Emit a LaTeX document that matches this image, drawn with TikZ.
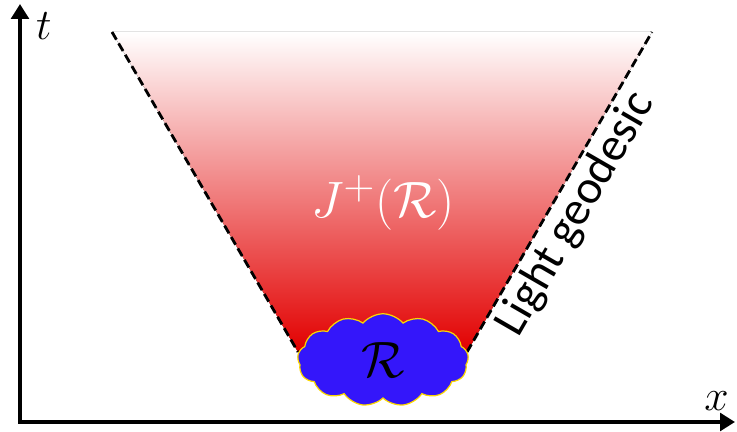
\documentclass[tikz,border=0pt]{standalone}
\usepackage{amsmath}
\usepackage{fontspec}
\setmainfont{Carlito}
\usepackage{tikz}
\usetikzlibrary{positioning}
\usetikzlibrary{arrows.meta}
\usetikzlibrary{shapes.symbols}

\definecolor{conered}{RGB}{226,0,0}
\definecolor{regblue}{RGB}{52,22,250}
\definecolor{regedge}{RGB}{250,215,0}

\tikzset{
    axis/.style={line width=2.8pt, line join=miter, {Triangle[width=10pt,length=8.5pt]}-{Triangle[width=10pt,length=8.5pt]}},
    geodesic/.style={line width=1.6pt, dash pattern=on 5pt off 2.5pt},
    biglabel/.style={font=\Huge, scale=1.17},
    axislabel/.style={font=\Huge},
}

\begin{document}
\begin{tikzpicture}[x=0.02cm, y=-0.02cm]
    \useasboundingbox (0,0) rectangle (737,432);

    \coordinate (O) at (20,422);
    \coordinate (tend) at (20,4);
    \coordinate (xend) at (735,422);

    \coordinate (lt) at (112,32);
    \coordinate (lb) at (298,352);
    \coordinate (rt) at (652,32);
    \coordinate (rb) at (467,352);

    \fill[top color=white, bottom color=conered] (lt) -- (rt) -- (rb) -- (lb) -- cycle;
    \draw[geodesic] (lt) -- (lb);
    \draw[geodesic] (rb) -- (rt) node[pos=0.47, sloped, below, inner sep=2pt, font=\fontsize{27}{32}\selectfont] (geo) {Light geodesic};

    \node[cloud, cloud puffs=13, cloud puff arc=100, draw=regedge, line width=0.7pt, fill=regblue, minimum width=3.42cm, minimum height=1.85cm, inner sep=0pt] (reg) at (383,360) {};
    \node[biglabel] (regname) at (reg) {$\mathcal{R}$};
    \node[biglabel, text=white] (cone) at (383,203) {$J^+(\mathcal{R})$};

    \draw[axis] (xend) -- (O) -- (tend);
    \node[axislabel, below right=0.05cm and 0.2cm of tend] (tlab) {$t$};
    \node[axislabel, above left=0.1cm and 0cm of xend] (xlab) {$x$};
\end{tikzpicture}
\end{document}
